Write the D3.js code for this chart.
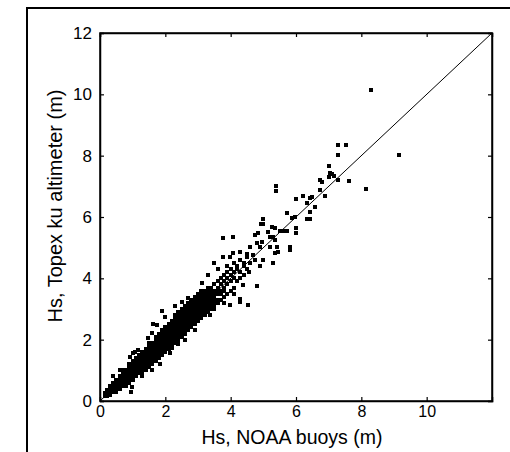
<!DOCTYPE html>
<html><head><meta charset="utf-8">
<script src="https://cdn.jsdelivr.net/npm/d3@7"></script>
<style>body{margin:0;background:#fff}svg{display:block}text{font-family:"Liberation Sans",Arial,sans-serif;fill:#000}</style>
</head><body><svg id="c" width="510" height="452"></svg>
<script>
const xTicks = [0, 2, 4, 6, 8, 10];
const yTicks = [0, 2, 4, 6, 8, 10, 12];
const xLabel = "Hs, NOAA buoys (m)";
const yLabel = "Hs, Topex ku altimeter (m)";
const refLine = [[0, 0], [12, 12]];
// dense core: each column is [buoy Hs, list of altimeter Hs]
const coreColumns = [
  [0.15,[0.15,0.25]],
  [0.2,[0.15,0.25,0.35]],
  [0.3,[0.2,0.3,0.4,0.5]],
  [0.4,[0.3,0.4,0.5,0.6]],
  [0.5,[0.3,0.4,0.5,0.6,0.7]],
  [0.6,[0.4,0.5,0.6,0.7,0.8]],
  [0.7,[0.5,0.6,0.7,0.8,0.9,1.0]],
  [0.8,[0.5,0.6,0.7,0.8,0.9,1.0]],
  [0.9,[0.6,0.7,0.8,0.9,1.0,1.1,1.2]],
  [1.0,[0.7,0.8,0.9,1.0,1.1,1.2,1.3]],
  [1.1,[0.8,0.9,1.0,1.1,1.2,1.3,1.4]],
  [1.2,[0.9,1.0,1.1,1.2,1.3,1.4,1.5]],
  [1.3,[0.9,1.0,1.1,1.2,1.3,1.4,1.5,1.6]],
  [1.4,[1.0,1.1,1.2,1.3,1.4,1.5,1.6,1.7]],
  [1.5,[1.1,1.2,1.3,1.4,1.5,1.6,1.7,1.8,1.9]],
  [1.6,[1.2,1.3,1.4,1.5,1.6,1.7,1.8,1.9]],
  [1.7,[1.3,1.4,1.5,1.6,1.7,1.8,1.9,2.0,2.1]],
  [1.8,[1.4,1.5,1.6,1.7,1.8,1.9,2.0,2.1,2.2]],
  [1.9,[1.5,1.6,1.7,1.8,1.9,2.0,2.1,2.2,2.3]],
  [2.0,[1.6,1.7,1.8,1.9,2.0,2.1,2.2,2.3,2.4]],
  [2.1,[1.7,1.8,1.9,2.0,2.1,2.2,2.3,2.4,2.5]],
  [2.2,[1.8,1.9,2.0,2.1,2.2,2.3,2.4,2.5,2.6]],
  [2.3,[1.9,2.0,2.1,2.2,2.3,2.4,2.5,2.6,2.7,2.8]],
  [2.4,[2.0,2.1,2.2,2.3,2.4,2.5,2.6,2.7,2.8,2.9]],
  [2.5,[2.1,2.2,2.3,2.4,2.5,2.6,2.7,2.8,2.9,3.0]],
  [2.6,[2.2,2.3,2.4,2.5,2.6,2.7,2.8,2.9,3.0,3.1]],
  [2.7,[2.3,2.4,2.5,2.6,2.7,2.8,2.9,3.0,3.1,3.2]],
  [2.8,[2.4,2.5,2.6,2.7,2.8,2.9,3.0,3.1,3.2,3.3]],
  [2.9,[2.5,2.6,2.7,2.8,2.9,3.0,3.1,3.2,3.3,3.4]],
  [3.0,[2.6,2.7,2.8,2.9,3.0,3.1,3.2,3.3,3.4,3.5]],
  [3.1,[2.7,2.8,2.9,3.0,3.1,3.2,3.3,3.4,3.5,3.6]],
  [3.2,[2.8,2.9,3.0,3.1,3.2,3.3,3.4,3.5,3.6]],
  [3.3,[2.9,3.0,3.1,3.2,3.3,3.4,3.5,3.6,3.7]],
  [3.4,[3.0,3.1,3.2,3.3,3.4,3.5,3.6,3.7]],
  [3.5,[3.1,3.2,3.3,3.4,3.5,3.6,3.8]],
  [3.6,[3.2,3.3,3.5,3.6,3.7,3.9]],
  [3.7,[3.3,3.5,3.6,3.8,4.0]],
  [3.8,[3.4,3.6,3.7,3.9,4.1]],
  [3.9,[3.5,3.8,4.0,4.2,4.4]],
  [4.0,[3.6,3.9,4.1,4.3]],
  [4.1,[3.7,4.0,4.2,4.5]],
  [4.2,[3.9,4.3,4.4]],
  [4.3,[4.0,4.2,4.6]],
  [4.4,[4.1,4.5]],
  [4.5,[4.3,4.7]]
];
// scattered points outside the dense core: [buoy Hs, altimeter Hs]
const scatterPoints = [
  [0.95,0.3],[0.97,0.47],[1.84,1.2],[2.14,1.55],[2.19,1.72],[1.02,1.55],[1.07,1.61],[1.17,1.66],
  [0.92,1.44],[1.48,2.05],[1.58,2.21],[1.63,2.5],[1.73,2.48],[1.89,2.94],[2.5,3.24],[2.7,3.35],
  [3.11,3.84],[4.39,3.78],[4.8,3.75],[4.29,3.24],[4.54,3.13],[3.98,3.13],[3.37,2.8],[3.31,2.97],
  [2.4,1.85],[2.6,2.0],[2.9,2.3],[0.6,1.0],[0.4,0.8],[1.3,0.8],[1.6,1.0],[2.3,3.1],[2.0,2.75],
  [3.5,3.0],[3.8,3.2],[4.1,3.5],[4.3,3.33],
  [7.28,8.35],[7.53,8.35],[7.28,8.02],[9.15,8.02],[7.0,7.66],[7.0,7.3],[7.1,7.4],[7.15,7.35],
  [7.05,7.45],[7.28,7.2],[7.62,7.17],[8.14,6.9],[6.73,7.2],[6.8,7.14],[5.38,7.0],[5.38,6.85],
  [6.2,6.7],[6.0,6.6],[6.5,6.65],[6.43,6.62],[6.73,6.88],[6.9,6.7],[6.33,6.46],[6.58,6.33],
  [6.43,6.16],[6.33,5.93],[6.43,5.93],[5.72,6.13],[5.88,5.97],[5.97,6.0],[5.0,5.93],[5.0,5.77],
  [4.93,5.77],[5.26,5.67],[5.36,5.64],[5.51,5.54],[5.6,5.54],[5.72,5.54],[6.0,5.64],[6.0,5.48],
  [4.74,5.41],[4.84,5.48],[5.14,5.51],[5.2,5.35],[5.3,5.35],[5.36,5.25],[3.77,5.31],[4.07,5.35],
  [5.82,5.02],[5.82,4.92],[4.6,5.02],[4.8,5.15],[4.96,5.18],[4.9,5.02],[5.2,5.02],[5.42,5.02],
  [5.45,4.86],[5.36,4.83],[4.07,4.83],[4.29,4.86],[4.5,4.79],[4.68,4.76],[3.77,4.7],[3.98,4.7],
  [5.3,4.5],[4.4,4.4],[4.6,4.5],[4.75,4.6],[4.9,4.4],[5.0,4.6],[4.55,4.2],[3.6,4.3],[3.3,4.1],
  [3.5,4.5],[8.3,10.14]
];

const svg = d3.select("#c");
const L = 100, R = 492, T = 33, B = 401;
const x = d3.scaleLinear().domain([0, 12]).range([L, R]);
const y = d3.scaleLinear().domain([0, 12]).range([B, T]);

// outer frame
svg.append("rect").attr("x", 27).attr("y", 8).attr("width", 520).attr("height", 480)
  .attr("fill", "none").attr("stroke", "#000").attr("stroke-width", 2);

const pts = [];
coreColumns.forEach(([cx, ys]) => ys.forEach(v => pts.push([cx, v])));
scatterPoints.forEach(p => pts.push(p));

const s = 4;
svg.append("g").attr("shape-rendering", "crispEdges").selectAll("rect").data(pts).join("rect")
  .attr("x", d => Math.round(x(d[0]) - s / 2)).attr("y", d => Math.round(y(d[1]) - s / 2))
  .attr("width", s).attr("height", s).attr("fill", "#000");

svg.append("line")
  .attr("x1", x(refLine[0][0])).attr("y1", y(refLine[0][1]))
  .attr("x2", x(refLine[1][0])).attr("y2", y(refLine[1][1]))
  .attr("stroke", "#000").attr("stroke-width", 1);

// axes (box with inward ticks)
const tk = 4;
const fs = 17;
const gx = svg.append("g").attr("transform", `translate(0,${B})`)
  .call(d3.axisBottom(x).tickValues(xTicks).tickSize(-tk).tickPadding(5).tickFormat(d3.format("d")));
const gy = svg.append("g").attr("transform", `translate(${L},0)`)
  .call(d3.axisLeft(y).tickValues(yTicks).tickSize(-tk).tickPadding(8).tickFormat(d3.format("d")));
const gt = svg.append("g").attr("transform", `translate(0,${T})`)
  .call(d3.axisTop(x).tickValues(xTicks).tickSize(-tk).tickFormat(""));
const gr = svg.append("g").attr("transform", `translate(${R},0)`)
  .call(d3.axisRight(y).tickValues(yTicks).tickSize(-tk).tickFormat(""));
[gx, gy, gt, gr].forEach(g => {
  g.select(".domain").attr("stroke", "#000").attr("stroke-width", 1.5);
  g.selectAll(".tick line").attr("stroke", "#000").attr("stroke-width", 1.2);
  g.selectAll("text").attr("font-size", fs).attr("font-family", "Liberation Sans, Arial, sans-serif").attr("fill", "#000");
});
gx.selectAll("text").attr("font-size", 16);
svg.append("rect").attr("x", L).attr("y", T).attr("width", R - L).attr("height", B - T)
  .attr("fill", "none").attr("stroke", "#000").attr("stroke-width", 1.5);

svg.append("text").attr("x", 292).attr("y", 444).attr("text-anchor", "middle")
  .attr("font-size", 19.5).text(xLabel);
svg.append("text").attr("transform", `translate(62,206) rotate(-90)`).attr("text-anchor", "middle")
  .attr("font-size", 20).text(yLabel);
</script></body></html>
